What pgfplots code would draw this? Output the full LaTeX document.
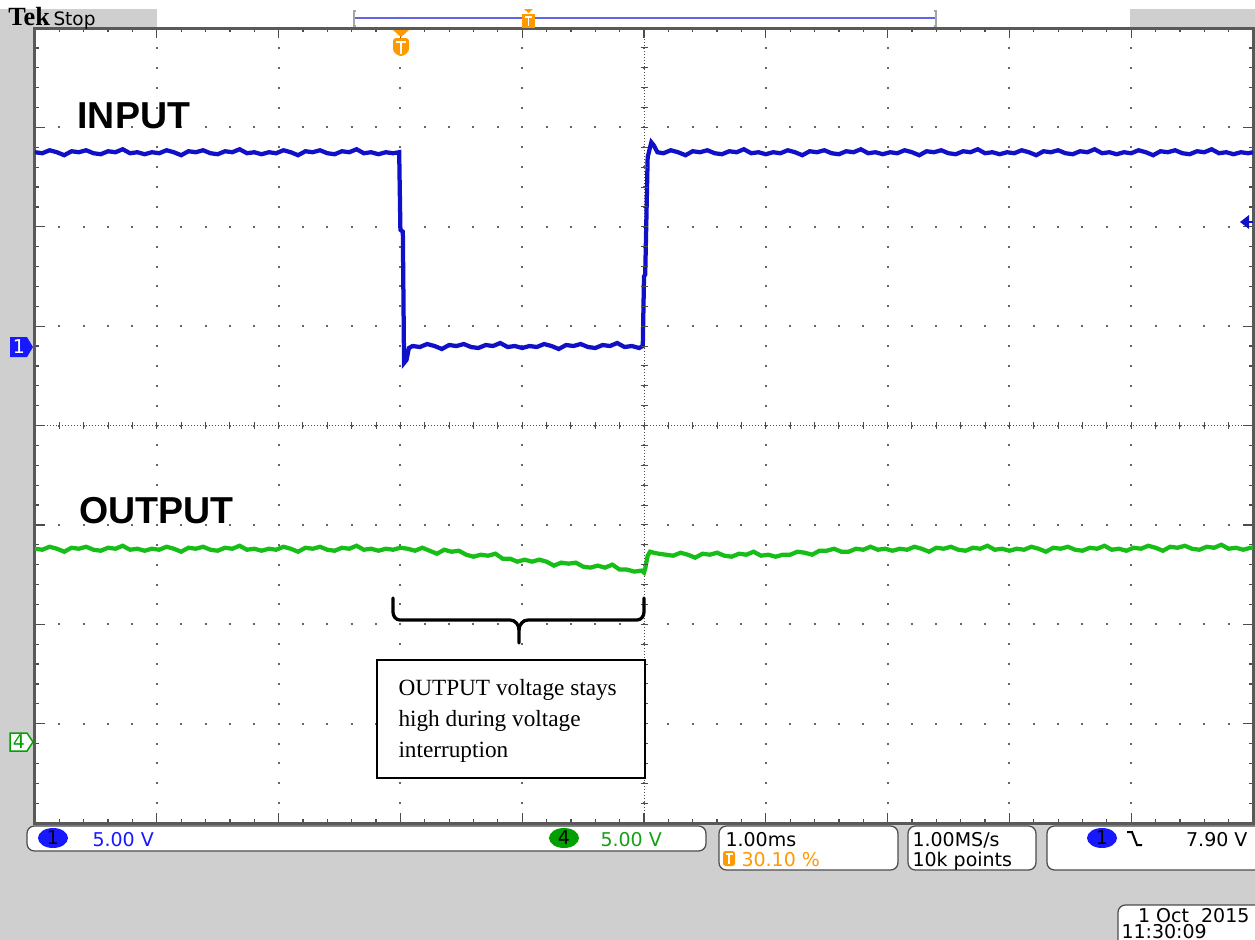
\documentclass[border=0pt]{standalone}
\usepackage{fontspec}
\setmainfont{Liberation Sans}
\newfontfamily\timesfont{Liberation Serif}
\newfontfamily\tekfont{DejaVu Sans}
\usepackage{pgfplots}
\pgfplotsset{compat=1.18}

\definecolor{bg}{RGB}{207,207,207}
\definecolor{trace1}{RGB}{16,16,200}
\definecolor{trace4}{RGB}{24,190,24}
\definecolor{tekorange}{RGB}{255,153,0}
\definecolor{chblue}{RGB}{24,24,255}
\definecolor{chgreen}{RGB}{0,160,0}
\definecolor{recblue}{RGB}{100,100,230}

\begin{document}
\begin{tikzpicture}
% page background, 1 px = 0.4pt, origin top left
\begin{scope}[x=0.4pt,y=-0.4pt]
\fill[bg] (0,0) rectangle (1255,940);
\fill[white] (0,0) rectangle (1255,9);
\end{scope}

\begin{axis}[
    at={(14pt,-329.2pt)}, anchor=south west,
    scale only axis, width=487.2pt, height=318pt,
    xmin=0, xmax=10, ymin=-4, ymax=4,
    xtick={0,...,10}, ytick={-4,...,4},
    minor tick num=4,
    xticklabels={}, yticklabels={},
    tick align=inside,
    major tick length=4pt, minor tick length=1.6pt,
    tick style={black!70, line width=0.5pt},
    grid=major,
    x grid style={black!60, line width=0.8pt, dash pattern=on 0.8pt off 7.15pt, dash phase=0.4pt},
    y grid style={black!60, line width=0.8pt, dash pattern=on 0.8pt off 8.944pt, dash phase=0.4pt},
    axis line style={black!65, line width=1.2pt},
    axis background/.style={fill=white},
]

% centre crosshair
\draw[black!70, line width=0.4pt, dash pattern=on 0.4pt off 0.8pt] (axis cs:0,0) -- (axis cs:10,0);
\draw[black!70, line width=0.4pt, dash pattern=on 0.4pt off 0.8pt] (axis cs:5,-4) -- (axis cs:5,4);

% channel 1 (INPUT)
\addplot[trace1, line width=1.7pt, line join=miter] coordinates {
(0.00,2.75)(0.06,2.74)(0.12,2.77)(0.18,2.75)(0.24,2.72)(0.30,2.76)(0.36,2.75)(0.42,2.77)
(0.48,2.74)(0.54,2.73)(0.60,2.76)(0.66,2.75)(0.72,2.78)(0.78,2.74)(0.84,2.75)(0.90,2.73)
(0.96,2.75)(1.02,2.74)(1.08,2.77)(1.14,2.75)(1.20,2.72)(1.26,2.76)(1.32,2.75)(1.38,2.77)
(1.44,2.74)(1.50,2.73)(1.56,2.76)(1.62,2.75)(1.68,2.78)(1.74,2.74)(1.80,2.75)(1.86,2.73)
(1.92,2.75)(1.98,2.74)(2.04,2.77)(2.10,2.75)(2.16,2.72)(2.22,2.76)(2.28,2.75)(2.34,2.77)
(2.40,2.74)(2.46,2.73)(2.52,2.76)(2.58,2.75)(2.64,2.78)(2.70,2.74)(2.76,2.75)(2.82,2.73)
(2.88,2.75)(2.94,2.74)(2.99,2.75)
(3.00,1.97)(3.02,1.95)(3.03,0.63)(3.05,0.66)(3.07,0.78)(3.10,0.80)
(3.16,0.79)(3.22,0.82)(3.28,0.80)(3.34,0.77)(3.40,0.81)(3.46,0.80)(3.52,0.82)(3.58,0.79)
(3.64,0.78)(3.70,0.81)(3.76,0.80)(3.82,0.83)(3.88,0.79)(3.94,0.80)(4.00,0.78)
(4.06,0.80)(4.12,0.79)(4.18,0.82)(4.24,0.80)(4.30,0.77)(4.36,0.81)(4.42,0.80)(4.48,0.82)
(4.54,0.79)(4.60,0.78)(4.66,0.81)(4.72,0.80)(4.78,0.83)(4.84,0.79)(4.90,0.80)(4.96,0.78)
(4.99,0.80)
(5.00,1.50)(5.01,1.52)(5.03,2.70)(5.06,2.85)(5.08,2.82)(5.11,2.75)
(5.16,2.74)(5.22,2.77)(5.28,2.75)(5.34,2.72)(5.40,2.76)(5.46,2.75)(5.52,2.77)(5.58,2.74)
(5.64,2.73)(5.70,2.76)(5.76,2.75)(5.82,2.78)(5.88,2.74)(5.94,2.75)(6.00,2.73)
(6.06,2.75)(6.12,2.74)(6.18,2.77)(6.24,2.75)(6.30,2.72)(6.36,2.76)(6.42,2.75)(6.48,2.77)
(6.54,2.74)(6.60,2.73)(6.66,2.76)(6.72,2.75)(6.78,2.78)(6.84,2.74)(6.90,2.75)(6.96,2.73)
(7.02,2.75)(7.08,2.74)(7.14,2.77)(7.20,2.75)(7.26,2.72)(7.32,2.76)(7.38,2.75)(7.44,2.77)
(7.50,2.74)(7.56,2.73)(7.62,2.76)(7.68,2.75)(7.74,2.78)(7.80,2.74)(7.86,2.75)(7.92,2.73)
(7.98,2.75)(8.04,2.74)(8.10,2.77)(8.16,2.75)(8.22,2.72)(8.28,2.76)(8.34,2.75)(8.40,2.77)
(8.46,2.74)(8.52,2.73)(8.58,2.76)(8.64,2.75)(8.70,2.78)(8.76,2.74)(8.82,2.75)(8.88,2.73)
(8.94,2.75)(9.00,2.74)(9.06,2.77)(9.12,2.75)(9.18,2.72)(9.24,2.76)(9.30,2.75)(9.36,2.77)
(9.42,2.74)(9.48,2.73)(9.54,2.76)(9.60,2.75)(9.66,2.78)(9.72,2.74)(9.78,2.75)(9.84,2.73)
(9.90,2.75)(9.96,2.74)(10.00,2.75)
};

% channel 4 (OUTPUT)
\addplot[trace4, line width=1.7pt, line join=miter] coordinates {
(0.00,-1.24)(0.06,-1.25)(0.12,-1.22)(0.18,-1.24)(0.24,-1.27)(0.30,-1.23)(0.36,-1.24)(0.42,-1.22)
(0.48,-1.25)(0.54,-1.26)(0.60,-1.23)(0.66,-1.24)(0.72,-1.21)(0.78,-1.25)(0.84,-1.24)(0.90,-1.26)
(0.96,-1.24)(1.02,-1.25)(1.08,-1.22)(1.14,-1.24)(1.20,-1.27)(1.26,-1.23)(1.32,-1.24)(1.38,-1.22)
(1.44,-1.25)(1.50,-1.26)(1.56,-1.23)(1.62,-1.24)(1.68,-1.21)(1.74,-1.25)(1.80,-1.24)(1.86,-1.26)
(1.92,-1.24)(1.98,-1.25)(2.04,-1.22)(2.10,-1.24)(2.16,-1.27)(2.22,-1.23)(2.28,-1.24)(2.34,-1.22)
(2.40,-1.25)(2.46,-1.26)(2.52,-1.23)(2.58,-1.24)(2.64,-1.21)(2.70,-1.25)(2.76,-1.24)(2.82,-1.26)
(2.88,-1.24)(2.94,-1.25)(3.00,-1.23)
(3.06,-1.24)(3.12,-1.26)(3.18,-1.23)(3.24,-1.26)(3.30,-1.29)(3.36,-1.25)(3.42,-1.27)(3.48,-1.26)
(3.54,-1.30)(3.60,-1.32)(3.66,-1.30)(3.72,-1.31)(3.78,-1.29)(3.84,-1.34)(3.90,-1.34)(3.96,-1.37)
(4.02,-1.35)(4.08,-1.37)(4.14,-1.35)(4.20,-1.37)(4.26,-1.41)(4.32,-1.38)(4.38,-1.39)(4.44,-1.38)
(4.50,-1.42)(4.56,-1.43)(4.62,-1.41)(4.68,-1.43)(4.74,-1.40)(4.80,-1.45)(4.86,-1.45)(4.92,-1.47)
(4.98,-1.46)
(5.00,-1.48)(5.01,-1.44)(5.03,-1.31)(5.05,-1.27)(5.08,-1.28)(5.12,-1.29)
(5.18,-1.30)(5.24,-1.31)(5.30,-1.28)(5.36,-1.30)(5.42,-1.33)(5.48,-1.29)(5.54,-1.30)(5.60,-1.28)
(5.66,-1.31)(5.72,-1.32)(5.78,-1.29)(5.84,-1.30)(5.90,-1.27)(5.96,-1.31)(6.02,-1.30)(6.08,-1.32)
(6.14,-1.30)(6.20,-1.30)(6.26,-1.27)(6.32,-1.28)(6.38,-1.30)(6.44,-1.26)(6.50,-1.26)(6.56,-1.24)
(6.62,-1.27)(6.68,-1.27)(6.74,-1.24)(6.80,-1.25)(6.86,-1.22)(6.92,-1.25)(6.98,-1.24)(7.04,-1.26)
(7.10,-1.24)(7.16,-1.25)(7.22,-1.22)(7.28,-1.24)(7.34,-1.27)(7.40,-1.23)(7.46,-1.24)(7.52,-1.22)
(7.58,-1.25)(7.64,-1.26)(7.70,-1.23)(7.76,-1.24)(7.82,-1.21)(7.88,-1.25)(7.94,-1.24)(8.00,-1.26)
(8.06,-1.24)(8.12,-1.25)(8.18,-1.22)(8.24,-1.24)(8.30,-1.27)(8.36,-1.23)(8.42,-1.24)(8.48,-1.22)
(8.54,-1.25)(8.60,-1.26)(8.66,-1.23)(8.72,-1.24)(8.78,-1.21)(8.84,-1.25)(8.90,-1.24)(8.96,-1.26)
(9.02,-1.23)(9.08,-1.24)(9.14,-1.21)(9.20,-1.23)(9.26,-1.26)(9.32,-1.22)(9.38,-1.23)(9.44,-1.21)
(9.50,-1.24)(9.56,-1.25)(9.62,-1.22)(9.68,-1.23)(9.74,-1.20)(9.80,-1.24)(9.86,-1.23)(9.92,-1.25)
(9.98,-1.23)(10.00,-1.23)
};
\end{axis}

\begin{scope}[x=0.4pt,y=-0.4pt]
% crosshair ticks
\foreach \k in {1,...,49} {\draw[black!70, line width=0.4pt] ({35+24.36*\k},422) -- ++(0,7);}
\foreach \k in {1,...,39} {\draw[black!70, line width=0.4pt] (640.5,{28+19.875*\k}) -- ++(7,0);}

% top bar
\fill[white] (157,9) rectangle (1130,27);
\draw[black!35, line width=0.8pt] (356,11) -- (354,11) -- (354,26) -- (356,26);
\draw[black!35, line width=0.8pt] (934,11) -- (936,11) -- (936,26) -- (934,26);
\draw[recblue, line width=0.8pt] (355,18) -- (935,18);
\node[anchor=base west, inner sep=0, font=\timesfont\bfseries\fontsize{10.5}{11}\selectfont] at (8,26) {Tek};
\node[anchor=base west, inner sep=0, font=\tekfont\fontsize{7.4}{8}\selectfont] at (53,25) {Stop};
% small trigger marker in record bar
\fill[tekorange] (524,9) -- (533,9) -- (528.5,13) -- cycle;
\fill[tekorange] (522,14) rectangle (535,28);
\draw[white, line width=0.6pt] (525,17) -- (532,17) (528.5,17) -- (528.5,26);
% trigger position marker
\fill[tekorange] (393,30) -- (409,30) -- (401,37) -- cycle;
\fill[tekorange, rounded corners=1.2pt] (393,38) -- (409,38) -- (409,52) -- (401,57) -- (393,52) -- cycle;
\draw[white, line width=1pt] (396,42) -- (406,42) (401,42) -- (401,54);

% channel ground markers
\fill[chblue] (10,337) -- (27,337) -- (33,347) -- (27,357) -- (10,357) -- cycle;
\node[white, font=\tekfont\fontsize{7.6}{8}\selectfont] at (19,347) {1};
\draw[chgreen, fill=white, line width=0.6pt] (10,733) -- (27,733) -- (33,742) -- (27,751) -- (10,751) -- cycle;
\node[chgreen, font=\tekfont\fontsize{7.6}{8}\selectfont] at (19,742) {4};
% trigger level arrow
\fill[trace1] (1240,222) -- (1249,215) -- (1249,229) -- cycle;
\draw[trace1, line width=0.8pt] (1245,222) -- (1253,222);

% labels
\node[anchor=base west, inner sep=0, font=\bfseries\fontsize{15}{15}\selectfont] at (77,128) {INPUT};
\node[anchor=base west, inner sep=0, font=\bfseries\fontsize{15}{15}\selectfont] at (79,523) {OUTPUT};

% brace and note
\draw[line width=1.3pt, line cap=round]
  (393,598) -- (393,612) to[out=-90,in=180] (400,620) -- (510,620) to[out=0,in=90] (519,630) -- (519,643);
\draw[line width=1.3pt, line cap=round]
  (519,630) to[out=90,in=180] (528,620) -- (637,620) to[out=0,in=-90] (644,612) -- (644,598);
\draw[line width=0.6pt, fill=white] (377,660) rectangle (645,778);
\node[anchor=base west, inner sep=0, font=\timesfont\fontsize{9.3}{11}\selectfont] at (398,695) {OUTPUT voltage stays};
\node[anchor=base west, inner sep=0, font=\timesfont\fontsize{9.3}{11}\selectfont] at (398,726) {high during voltage};
\node[anchor=base west, inner sep=0, font=\timesfont\fontsize{9.3}{11}\selectfont] at (398,757) {interruption};

% status bar
\tikzset{sbox/.style={draw=black!70, line width=0.5pt, fill=white, rounded corners=3pt},
         stxt/.style={anchor=base west, inner sep=0, font=\tekfont\fontsize{7.6}{8}\selectfont}}
\draw[sbox] (27,826) rectangle (706,851);
\fill[chblue] (53,838) ellipse (15 and 10);
\node[font=\tekfont\fontsize{7.6}{8}\selectfont] at (53,838) {1};
\node[stxt, chblue] at (92,846) {5.00 V};
\fill[chgreen] (564,838) ellipse (15 and 10);
\node[font=\tekfont\fontsize{7.6}{8}\selectfont] at (564,838) {4};
\node[stxt, text=trace4!85!black] at (600,846) {5.00 V};

\draw[sbox] (719,826) rectangle (898,870);
\node[stxt] at (725,846) {1.00ms};
\fill[tekorange, rounded corners=1pt] (723,851) rectangle (735,866);
\draw[white, line width=0.6pt] (725.5,854) -- (732.5,854) (729,854) -- (729,864);
\node[stxt, tekorange] at (741,866) {30.10 \%};

\draw[sbox] (908,826) rectangle (1036,870);
\node[stxt] at (912,846) {1.00MS/s};
\node[stxt] at (912,866) {10k points};

\draw[sbox] (1047,826) rectangle (1262,870);
\fill[chblue] (1102,838) ellipse (15 and 10);
\node[font=\tekfont\fontsize{7.6}{8}\selectfont] at (1102,838) {1};
\draw[line width=0.8pt] (1127,832) -- (1132,832) -- (1137,845) -- (1142,845);
\node[stxt, anchor=base east] at (1248,846) {7.90 V};

\draw[sbox] (1118,905) rectangle (1262,948);
\node[stxt, anchor=base east] at (1250,922) {1 Oct\ \ 2015};
\node[stxt] at (1121,938) {11:30:09};

% fix the page to the screen size
\pgfresetboundingbox
\useasboundingbox (0,0) rectangle (1255,940);
\end{scope}
\end{tikzpicture}
\end{document}
